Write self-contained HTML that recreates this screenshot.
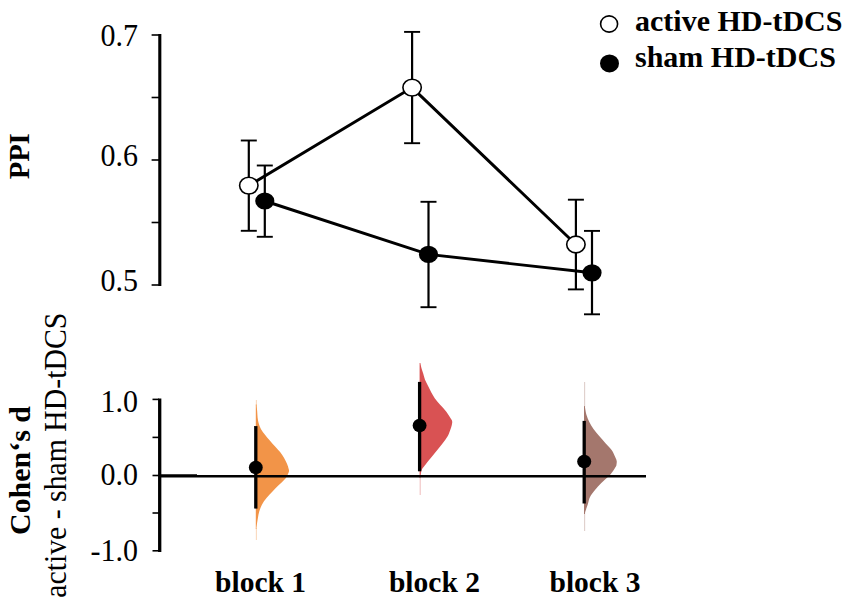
<!DOCTYPE html>
<html><head><meta charset="utf-8"><style>
html,body{margin:0;padding:0;background:#fff;}
svg{display:block;}
text{font-family:"Liberation Serif",serif;fill:#000;}
.tl{font-size:30px;text-anchor:end;}
.xl{font-size:28.7px;font-weight:bold;text-anchor:middle;}
.yl{font-size:30px;font-weight:bold;text-anchor:middle;}
.ys{font-size:29px;text-anchor:middle;}
.lg{font-size:30px;font-weight:bold;}
</style></head><body>
<svg width="851" height="605" viewBox="0 0 851 605">
<rect width="851" height="605" fill="#fff"/>
<line x1="159.8" y1="34" x2="159.8" y2="286" stroke="#000" stroke-width="3.1"/>
<line x1="151.6" y1="35.0" x2="159" y2="35.0" stroke="#000" stroke-width="1.6"/>
<line x1="151.6" y1="97.5" x2="159" y2="97.5" stroke="#000" stroke-width="1.6"/>
<line x1="151.6" y1="160.0" x2="159" y2="160.0" stroke="#000" stroke-width="1.6"/>
<line x1="151.6" y1="222.5" x2="159" y2="222.5" stroke="#000" stroke-width="1.6"/>
<line x1="151.6" y1="285.0" x2="159" y2="285.0" stroke="#000" stroke-width="1.6"/>
<text transform="translate(138,45.7) scale(1,1.02)" class="tl">0.7</text>
<text transform="translate(138,165.8) scale(1,1.02)" class="tl">0.6</text>
<text transform="translate(138,290.8) scale(1,1.02)" class="tl">0.5</text>
<line x1="248.8" y1="140.5" x2="248.8" y2="230.8" stroke="#000" stroke-width="2.2"/><line x1="240.8" y1="140.5" x2="256.8" y2="140.5" stroke="#000" stroke-width="1.9"/><line x1="240.8" y1="230.8" x2="256.8" y2="230.8" stroke="#000" stroke-width="1.9"/>
<line x1="412.1" y1="31.9" x2="412.1" y2="143.2" stroke="#000" stroke-width="2.2"/><line x1="404.1" y1="31.9" x2="420.1" y2="31.9" stroke="#000" stroke-width="1.9"/><line x1="404.1" y1="143.2" x2="420.1" y2="143.2" stroke="#000" stroke-width="1.9"/>
<line x1="575.9" y1="199.7" x2="575.9" y2="289.4" stroke="#000" stroke-width="2.2"/><line x1="567.9" y1="199.7" x2="583.9" y2="199.7" stroke="#000" stroke-width="1.9"/><line x1="567.9" y1="289.4" x2="583.9" y2="289.4" stroke="#000" stroke-width="1.9"/>
<line x1="264.8" y1="165.5" x2="264.8" y2="236.8" stroke="#000" stroke-width="2.2"/><line x1="256.8" y1="165.5" x2="272.8" y2="165.5" stroke="#000" stroke-width="1.9"/><line x1="256.8" y1="236.8" x2="272.8" y2="236.8" stroke="#000" stroke-width="1.9"/>
<line x1="428.5" y1="201.8" x2="428.5" y2="307.2" stroke="#000" stroke-width="2.2"/><line x1="420.5" y1="201.8" x2="436.5" y2="201.8" stroke="#000" stroke-width="1.9"/><line x1="420.5" y1="307.2" x2="436.5" y2="307.2" stroke="#000" stroke-width="1.9"/>
<line x1="592.0" y1="230.9" x2="592.0" y2="314.3" stroke="#000" stroke-width="2.2"/><line x1="584.0" y1="230.9" x2="600.0" y2="230.9" stroke="#000" stroke-width="1.9"/><line x1="584.0" y1="314.3" x2="600.0" y2="314.3" stroke="#000" stroke-width="1.9"/>
<polyline points="248.8,185.6 412.1,87.6 575.9,244.5" fill="none" stroke="#000" stroke-width="2.9"/>
<polyline points="264.8,201.0 428.5,254.4 592.0,272.8" fill="none" stroke="#000" stroke-width="2.9"/>
<ellipse cx="248.8" cy="185.6" rx="9.2" ry="8.4" fill="#fff" stroke="#000" stroke-width="1.6"/>
<ellipse cx="412.1" cy="87.6" rx="9.2" ry="8.4" fill="#fff" stroke="#000" stroke-width="1.6"/>
<ellipse cx="575.9" cy="244.5" rx="9.2" ry="8.4" fill="#fff" stroke="#000" stroke-width="1.6"/>
<ellipse cx="264.8" cy="201.0" rx="9.6" ry="8.6" fill="#000"/>
<ellipse cx="428.5" cy="254.4" rx="9.6" ry="8.6" fill="#000"/>
<ellipse cx="592.0" cy="272.8" rx="9.6" ry="8.6" fill="#000"/>
<line x1="159.7" y1="398.5" x2="159.7" y2="552" stroke="#000" stroke-width="3.3"/>
<line x1="152.5" y1="399.4" x2="159" y2="399.4" stroke="#000" stroke-width="1.6"/>
<line x1="152.5" y1="437.4" x2="159" y2="437.4" stroke="#000" stroke-width="1.6"/>
<line x1="152.5" y1="475.5" x2="159" y2="475.5" stroke="#000" stroke-width="1.6"/>
<line x1="152.5" y1="513.0" x2="159" y2="513.0" stroke="#000" stroke-width="1.6"/>
<line x1="152.5" y1="550.8" x2="159" y2="550.8" stroke="#000" stroke-width="1.6"/>
<text transform="translate(138,412.0) scale(1,1.02)" class="tl">1.0</text>
<text transform="translate(138,484.9) scale(1,1.02)" class="tl">0.0</text>
<text transform="translate(138,561.1) scale(1,1.02)" class="tl">-1.0</text>
<path d="M255.80,404.60 L256.60,404.60 C256.70,405.77 257.03,409.47 257.20,411.60 C257.37,413.73 257.37,415.48 257.60,417.40 C257.83,419.32 258.05,421.18 258.60,423.10 C259.15,425.02 259.83,426.97 260.90,428.90 C261.97,430.83 263.52,432.77 265.00,434.70 C266.48,436.63 268.15,438.57 269.80,440.50 C271.45,442.43 273.18,444.37 274.90,446.30 C276.62,448.23 278.57,450.17 280.10,452.10 C281.63,454.03 282.95,455.97 284.10,457.90 C285.25,459.83 286.23,461.85 287.00,463.70 C287.77,465.55 288.40,467.62 288.70,469.00 C289.00,470.38 289.30,470.47 288.80,472.00 C288.30,473.53 287.32,476.07 285.70,478.20 C284.08,480.33 281.30,482.58 279.10,484.80 C276.90,487.02 274.60,489.28 272.50,491.50 C270.40,493.72 268.27,495.90 266.50,498.10 C264.73,500.30 263.10,502.50 261.90,504.70 C260.70,506.90 259.97,509.10 259.30,511.30 C258.63,513.50 258.30,515.70 257.90,517.90 C257.50,520.10 257.15,522.65 256.90,524.50 C256.65,526.35 256.48,528.25 256.40,529.00 L255.80,529.00 Z" fill="#F29448"/><line x1="256.40" y1="400.00" x2="256.40" y2="405.60" stroke="#F29448" stroke-width="1.1" opacity="0.35"/><line x1="256.40" y1="528.00" x2="256.40" y2="540.00" stroke="#F29448" stroke-width="1.1" opacity="0.35"/>
<path d="M419.60,363.10 L420.40,363.10 C420.55,363.82 420.83,365.65 421.30,367.40 C421.77,369.15 422.58,371.53 423.20,373.60 C423.82,375.67 424.18,377.73 425.00,379.80 C425.82,381.87 427.07,383.93 428.10,386.00 C429.13,388.07 430.07,390.13 431.20,392.20 C432.33,394.27 433.45,396.33 434.90,398.40 C436.35,400.47 438.13,402.53 439.90,404.60 C441.67,406.67 443.85,408.73 445.50,410.80 C447.15,412.87 448.70,415.30 449.80,417.00 C450.90,418.70 451.75,419.75 452.10,421.00 C452.45,422.25 452.15,423.17 451.90,424.50 C451.65,425.83 451.28,427.08 450.60,429.00 C449.92,430.92 449.08,433.67 447.80,436.00 C446.52,438.33 444.65,440.67 442.90,443.00 C441.15,445.33 439.18,447.65 437.30,450.00 C435.42,452.35 433.48,454.75 431.60,457.10 C429.72,459.45 427.63,462.00 426.00,464.10 C424.37,466.20 422.68,467.82 421.80,469.70 C420.92,471.58 420.95,474.02 420.70,475.40 C420.45,476.78 420.37,477.57 420.30,478.00 L419.60,478.00 Z" fill="#D95253"/><line x1="420.20" y1="477.00" x2="420.20" y2="495.00" stroke="#D95253" stroke-width="1.1" opacity="0.35"/>
<path d="M584.00,406.00 L584.80,406.00 C584.85,406.33 584.82,406.48 585.10,408.00 C585.38,409.52 585.80,412.75 586.50,415.10 C587.20,417.45 588.13,419.77 589.30,422.10 C590.47,424.43 591.85,426.77 593.50,429.10 C595.15,431.43 597.20,433.75 599.20,436.10 C601.20,438.45 603.40,440.85 605.50,443.20 C607.60,445.55 610.17,447.87 611.80,450.20 C613.43,452.53 614.48,455.40 615.30,457.20 C616.12,459.00 616.50,459.78 616.70,461.00 C616.90,462.22 616.63,463.58 616.50,464.50 C616.37,465.42 616.57,465.28 615.90,466.50 C615.23,467.72 613.65,470.22 612.50,471.80 C611.35,473.38 610.87,474.12 609.00,476.00 C607.13,477.88 603.63,480.75 601.30,483.10 C598.97,485.45 596.88,487.77 595.00,490.10 C593.12,492.43 591.18,494.77 590.00,497.10 C588.82,499.43 588.65,501.77 587.90,504.10 C587.15,506.43 586.00,509.45 585.50,511.10 C585.00,512.75 585.00,513.52 584.90,514.00 L584.00,514.00 Z" fill="#A4776D"/><line x1="584.60" y1="382.00" x2="584.60" y2="407.00" stroke="#A4776D" stroke-width="1.1" opacity="0.35"/><line x1="584.60" y1="513.00" x2="584.60" y2="531.00" stroke="#A4776D" stroke-width="1.1" opacity="0.35"/>
<line x1="160" y1="476.2" x2="646" y2="476.2" stroke="#000" stroke-width="2.5"/>
<line x1="160" y1="474.9" x2="197" y2="474.9" stroke="#000" stroke-width="1.3"/>
<line x1="255.8" y1="426.1" x2="255.8" y2="508.6" stroke="#000" stroke-width="3.3"/>
<ellipse cx="255.8" cy="467.4" rx="6.95" ry="6.70" fill="#000"/>
<line x1="419.6" y1="381.9" x2="419.6" y2="471.3" stroke="#000" stroke-width="3.3"/>
<ellipse cx="419.6" cy="425.5" rx="6.95" ry="6.75" fill="#000"/>
<line x1="584.2" y1="420.9" x2="584.2" y2="503.5" stroke="#000" stroke-width="3.3"/>
<ellipse cx="584.2" cy="461.5" rx="7.05" ry="6.75" fill="#000"/>
<text x="260.55" y="591.6" class="xl" textLength="91" lengthAdjust="spacingAndGlyphs">block 1</text>
<text x="434.45" y="591.6" class="xl" textLength="91" lengthAdjust="spacingAndGlyphs">block 2</text>
<text x="595.00" y="591.6" class="xl" textLength="91" lengthAdjust="spacingAndGlyphs">block 3</text>
<text transform="translate(29.3,156.3) rotate(-90)" class="yl" style="font-size:29.2px" textLength="46" lengthAdjust="spacingAndGlyphs">PPI</text>
<text transform="translate(30.2,470.5) rotate(-90)" class="yl" style="font-size:30px" textLength="129" lengthAdjust="spacingAndGlyphs">Cohen‘s d</text>
<text transform="translate(65.6,455.2) rotate(-90)" class="ys" style="font-size:31px" textLength="285" lengthAdjust="spacingAndGlyphs">active - sham HD-tDCS</text>
<ellipse cx="609.1" cy="24" rx="8.5" ry="8.1" fill="#fff" stroke="#000" stroke-width="1.6"/>
<ellipse cx="609.5" cy="63.4" rx="9.5" ry="9" fill="#000"/>
<text x="635" y="30.8" class="lg">active HD-tDCS</text>
<text x="635" y="67.3" class="lg">sham HD-tDCS</text>
</svg>
</body></html>
